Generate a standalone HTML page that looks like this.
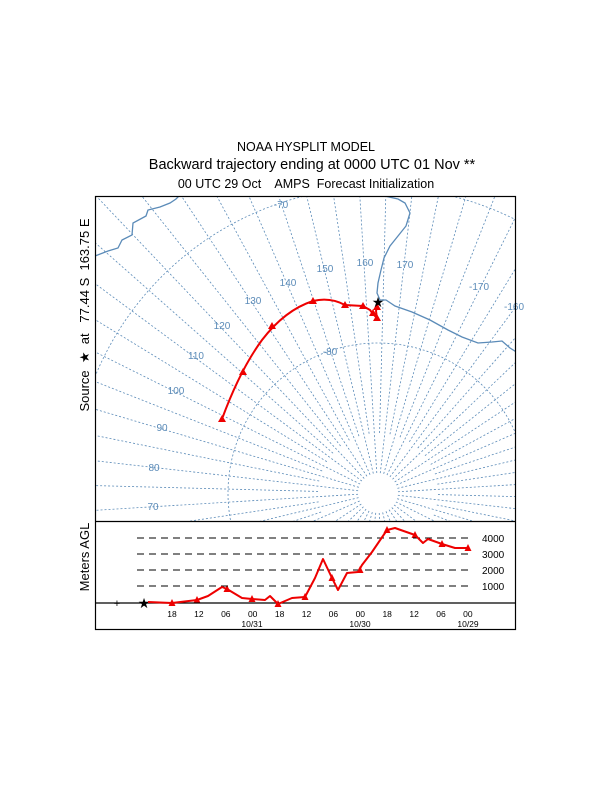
<!DOCTYPE html>
<html><head><meta charset="utf-8"><style>
html,body{margin:0;padding:0;background:#fff;width:612px;height:792px;overflow:hidden;}
svg{display:block;font-family:"Liberation Sans",sans-serif;}
</style></head><body>
<svg id="s" width="612" height="792" viewBox="0 0 612 792" xmlns="http://www.w3.org/2000/svg">
<text x="306" y="151" font-size="12.5" text-anchor="middle">NOAA HYSPLIT MODEL</text>
<text x="312" y="169" font-size="14.5" text-anchor="middle">Backward trajectory ending at 0000 UTC 01 Nov **</text>
<text x="306" y="188" font-size="12.5" text-anchor="middle" xml:space="preserve">00 UTC 29 Oct    AMPS  Forecast Initialization</text>
<text transform="translate(89,315) rotate(-90)" font-size="13" text-anchor="middle" xml:space="preserve">Source  ★  at   77.44 S  163.75 E</text>
<text transform="translate(89,557) rotate(-90)" font-size="13" text-anchor="middle">Meters AGL</text>
<defs><clipPath id="c"><rect x="95" y="196" width="421" height="325"/></clipPath></defs>
<g id="map" clip-path="url(#c)" fill="none" stroke="#5b8bb8" stroke-width="0.8"></g>
<g id="lab" font-size="10" fill="#5b8bb8"></g>
<polyline clip-path="url(#c)" fill="none" stroke="#5b8bb8" stroke-width="1.3" points="366,196 380,195 398,199 405,203 410,213 406,226 398,236 390,246 384,258 381,270 378,283 377,293 380,300 386,300 395,306 412,312 430,320 448,330 462,337 478,343 492,342 502,341 510,348 518,353"/>
<polyline clip-path="url(#c)" fill="none" stroke="#5b8bb8" stroke-width="1.3" points="95,256 108,251 118,248 122,240 132,235 133,223 146,216 148,210 160,207 170,203 176,199 180,195"/>
<path fill="none" stroke="#e00" stroke-width="2" stroke-linejoin="round" d="M222,419 Q240,370 262,340 Q285,310 313,301 Q330,297 345,305 L363,306 L370,310 L373,314 L377,318 L376,311 L377,307 L378,302"/>
<g fill="#e00" id="tri"></g>
<text x="378" y="307" font-size="14" text-anchor="middle">★</text>
<rect x="95.5" y="196.5" width="420" height="433" fill="none" stroke="#000" stroke-width="1.2"/>
<line x1="95" y1="521.5" x2="516" y2="521.5" stroke="#000" stroke-width="1.2"/>
<line x1="95" y1="603" x2="516" y2="603" stroke="#000" stroke-width="1.3"/>
<g stroke="#000" stroke-width="0.9" stroke-dasharray="7,5">
<line x1="137" y1="586" x2="472" y2="586"/><line x1="137" y1="570" x2="472" y2="570"/>
<line x1="137" y1="554" x2="472" y2="554"/><line x1="137" y1="538" x2="472" y2="538"/>
</g>
<g font-size="10"><text x="482" y="590">1000</text><text x="482" y="574">2000</text><text x="482" y="558">3000</text><text x="482" y="542">4000</text></g>
<g font-size="8.5" text-anchor="middle" id="tl"></g>
<g font-size="8.5" text-anchor="middle"><text x="252" y="627">10/31</text><text x="360" y="627">10/30</text><text x="468" y="627">10/29</text></g>
<text x="117" y="607" font-size="11" text-anchor="middle">+</text>
<text x="144" y="608" font-size="14" text-anchor="middle">★</text>
<polyline fill="none" stroke="#e00" stroke-width="2" stroke-linejoin="round" points="148,602 172,603 197,600 208,596 222,587 227,589 242,598 252,599 265,600 270,596 278,604 292,598 305,597 315,578 323,559 332,578 338,590 347,573 358,572 362,565 372,552 387,530 395,528 415,535 423,543 428,539 442,544 455,548 468,548"/>
</svg>
<script>
const NS="http://www.w3.org/2000/svg",px=378,py=493;
const m=document.getElementById('map'),lab=document.getElementById('lab');
function el(t,a,p){const e=document.createElementNS(NS,t);for(const k in a)e.setAttribute(k,a[k]);p.appendChild(e);return e;}
el('circle',{cx:px,cy:py,r:150,'stroke-dasharray':'2,2'},m);
el('circle',{cx:px,cy:py,r:306,'stroke-dasharray':'2,2'},m);
for(let L=0;L<360;L+=5){const a=(L-163.5)*Math.PI/180;const r0=L%10?60:20;
el('line',{x1:px+r0*Math.sin(a),y1:py-r0*Math.cos(a),x2:px+700*Math.sin(a),y2:py-700*Math.cos(a),'stroke-dasharray':'2,2'},m);}
el('circle',{cx:px,cy:py,r:19,fill:'#fff',stroke:'none'},m);
const labs=[[160,365,266],[170,405,268],[150,325,272],[140,288,286],[130,253,304],[120,222,329],[110,196,359],[100,176,394],[90,162,431],[80,154,471],[70,153,510],[-170,479,290],[-160,514,310],["-70",281,208],["-80",330,355]];
labs.forEach(([t,x,y])=>{const e=el('text',{x:x,y:y,'text-anchor':'middle'},lab);e.textContent=t;});
const tri=document.getElementById('tri');
[[222,419],[243,372],[272,326],[313,301],[345,305],[363,306],[373,313],[377,318],[377,307]].forEach(([x,y])=>el('path',{d:`M${x-4},${y+3}L${x+4},${y+3}L${x},${y-4}Z`},tri));
[[172,603],[197,600],[227,589],[252,599],[278,604],[305,597],[332,578],[360,570],[387,530],[415,535],[442,544],[468,548]].forEach(([x,y])=>el('path',{d:`M${x-3.5},${y+3}L${x+3.5},${y+3}L${x},${y-4}Z`},tri));
const tl=document.getElementById('tl');
["18","12","06","00","18","12","06","00","18","12","06","00"].forEach((t,i)=>{const e=el('text',{x:172+i*26.9,y:617},tl);e.textContent=t;});
</script>
</body></html>
